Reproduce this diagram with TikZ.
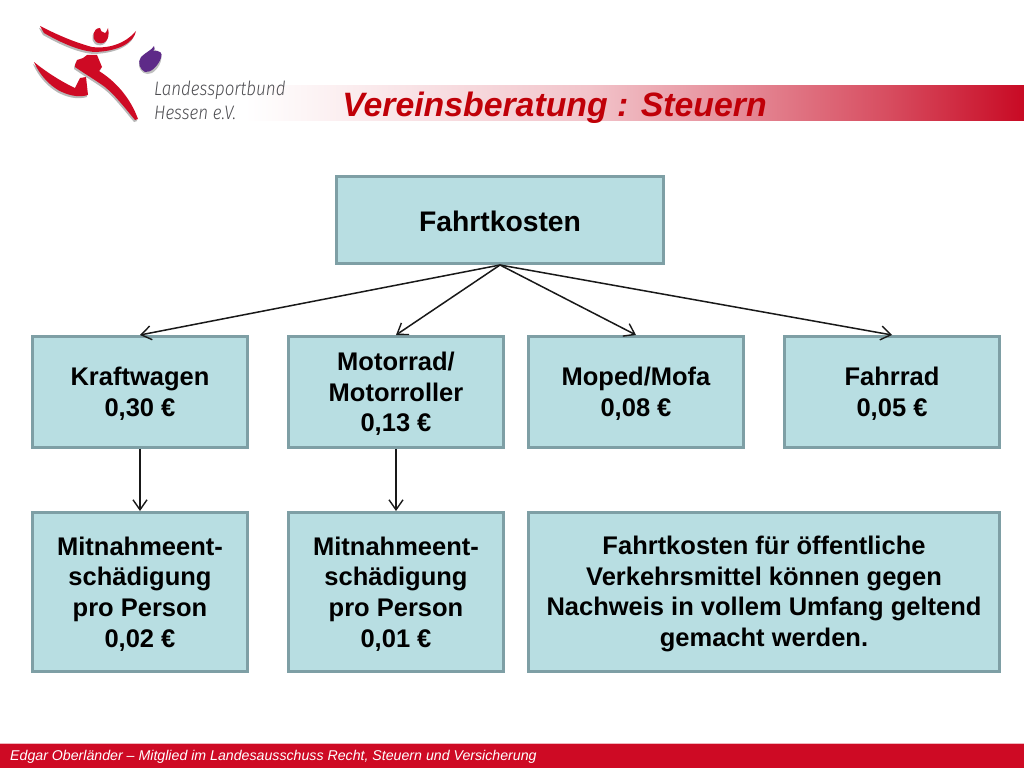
\documentclass[tikz,border=0pt]{standalone}
\usepackage{fontspec}
\setmainfont{Liberation Sans}
\newfontfamily\logofont[FakeStretch=0.87]{Fira Sans Light}
\usetikzlibrary{arrows.meta}
\definecolor{boxfill}{HTML}{B8DEE2}
\definecolor{boxline}{HTML}{7E9FA5}
\definecolor{lsbred}{HTML}{CE0A24}
\definecolor{bandend}{HTML}{C80A24}
\definecolor{titlered}{HTML}{C00008}
\definecolor{lsbpurple}{HTML}{5E2A88}
\definecolor{logotext}{HTML}{4E4E52}
\pgfdeclarehorizontalshading{bandshade}{100bp}{color(0bp)=(white); color(25bp)=(white); color(47bp)=(bandend!24!white); color(57bp)=(bandend!48!white); color(66bp)=(bandend!72!white); color(75bp)=(bandend); color(100bp)=(bandend)}
\tikzset{
  box/.style={draw=boxline,fill=boxfill,line width=2.6pt,rectangle,outer sep=1.3pt,inner sep=0pt},
  boxtext/.style={inner sep=0pt,align=center,text=black,font=\fontsize{25.5}{30.6}\selectfont\bfseries},
  link/.style={draw=black!90,line width=1.5pt,-{Straight Barb[length=10pt,width=14pt,line width=1.4pt]}},
  logored/.style={fill=lsbred,draw=none},
  logoshadow/.style={fill=black!28,draw=none},
}
\newcommand{\armpath}{(40,26) .. controls (52,32) and (70,41) .. (92,47) .. controls (108,49) and (125,44) .. (136,31) .. controls (134,42) and (120,51) .. (95,52) .. controls (78,51) and (58,41) .. (44,33) -- cycle}
\newcommand{\headpath}{(100,28) .. controls (93,28) and (91,38) .. (96,42) .. controls (103,46) and (111,41) .. (108,28) .. controls (107,31) and (106,33) .. (105,33) .. controls (102,33) and (100,30) .. cycle}
\newcommand{\bodypath}{(75,65) -- (77,60) -- (83,58) -- (87,55) -- (97,55) -- (102,67) -- (99,71) .. controls (115,81) and (130,97) .. (138,119) -- (135,120) .. controls (125,108) and (115,95) .. (105,87) .. controls (97,81) and (85,74) .. (75,67) -- cycle}
\newcommand{\legpath}{(34,62) .. controls (45,71) and (60,81) .. (75,88) -- (80,78) -- (86,77) -- (88,95) .. controls (78,98) and (67,95) .. (58,90) .. controls (50,85) and (40,76) .. cycle}
\begin{document}
\begin{tikzpicture}[x=1pt,y=-1pt]
\useasboundingbox (0,0) rectangle (1024,768);
\fill[white] (0,0) rectangle (1024,768);
% header band
\shade[shading=bandshade] (245,85) rectangle (1024,120);
% logo
\fill[logoshadow,shift={(-1,2)}] \armpath;
\fill[logoshadow,shift={(-1,2)}] \headpath;
\fill[logoshadow,shift={(-1,2)}] \bodypath;
\fill[logoshadow,shift={(-1,2)}] \legpath;
\fill[logored] \armpath;
\fill[logored] \headpath;
\fill[logored] \bodypath;
\fill[logored] \legpath;
\fill[black!25] (154,49) .. controls (146,52) and (138,58) .. (139,66) .. controls (140,72) and (146,76) .. (152,73) .. controls (157,70) and (163,62) .. (161,54) -- cycle;
\fill[lsbpurple] (154,46) .. controls (152,50) and (146,52) .. (141,57) .. controls (137,62) and (140,70) .. (145,72) .. controls (151,73) and (158,66) .. (161,58) .. controls (163,53) and (160,50) .. (153,51) .. controls (155,50) and (155,48) .. (154,46) -- cycle;
\node[anchor=west,inner sep=0pt,text=logotext,font=\logofont\itshape\fontsize{19.5}{19.5}\selectfont] (lsb1) at (154,90) {Landessportbund};
\node[anchor=west,inner sep=0pt,text=logotext,font=\logofont\itshape\fontsize{19.5}{19.5}\selectfont] (lsb2) at (154,113) {Hessen e.V.};
% title
\node[anchor=center,inner sep=0pt,text=titlered,font=\fontsize{33.8}{34}\selectfont\bfseries\itshape] (title) at (554.5,108) {Vereinsberatung : Steuern};
% boxes
\node[box,minimum width=327.4pt,minimum height=87.4pt] (root) at (500,220) {};
\node[box,minimum width=215.4pt,minimum height=111.4pt] (kw) at (140,392) {};
\node[box,minimum width=215.4pt,minimum height=111.4pt] (mr) at (396,392) {};
\node[box,minimum width=215.4pt,minimum height=111.4pt] (mp) at (636,392) {};
\node[box,minimum width=215.4pt,minimum height=111.4pt] (fr) at (892,392) {};
\node[box,minimum width=215.4pt,minimum height=159.4pt] (mk) at (140,592) {};
\node[box,minimum width=215.4pt,minimum height=159.4pt] (mm) at (396,592) {};
\node[box,minimum width=471.4pt,minimum height=159.4pt] (oe) at (764,592) {};
\node[boxtext,font=\fontsize{28.3}{34}\selectfont\bfseries] (roott) at (500,221) {Fahrtkosten};
\node[boxtext] (kwt) at (140,394) {Kraftwagen\\0,30 €};
\node[boxtext] (mrt) at (396,394) {Motorrad/\\Motorroller\\0,13 €};
\node[boxtext] (mpt) at (636,394) {Moped/Mofa\\0,08 €};
\node[boxtext] (frt) at (892,394) {Fahrrad\\0,05 €};
\node[boxtext] (mkt) at (140,594) {Mitnahmeent-\\schädigung\\pro Person\\0,02 €};
\node[boxtext] (mmt) at (396,594) {Mitnahmeent-\\schädigung\\pro Person\\0,01 €};
\node[boxtext] (oet) at (764,594) {Fahrtkosten für öffentliche\\Verkehrsmittel können gegen\\Nachweis in vollem Umfang geltend\\gemacht werden.};
% connectors
\draw[link] (root.south) -- (kw.north);
\draw[link] (root.south) -- (mr.north);
\draw[link] (root.south) -- (mp.north);
\draw[link] (root.south) -- (fr.north);
\draw[link] (kw.south) -- (mk.north);
\draw[link] (mr.south) -- (mm.north);
% footer
\fill[lsbred] (0,743) rectangle (1024,768);
\draw[white!70!lsbred,line width=0.8pt] (0,743) -- (1024,743);
\node[anchor=west,inner sep=0pt,text=white,font=\fontsize{14.17}{15}\selectfont\itshape] (foot) at (10,757) {Edgar Oberländer – Mitglied im Landesausschuss Recht, Steuern und Versicherung};
\end{tikzpicture}
\end{document}
